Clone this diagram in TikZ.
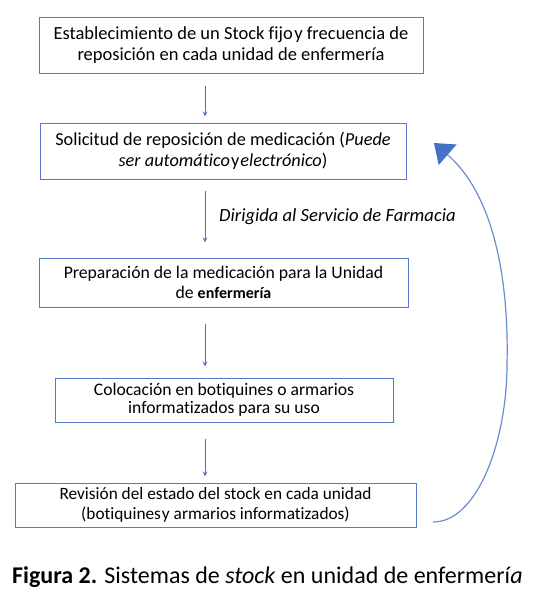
\documentclass[tikz,border=0pt]{standalone}
\usepackage{fontspec}
\setmainfont[Ligatures=NoCommon]{Carlito}
\usetikzlibrary{arrows.meta}
\definecolor{boxblue}{HTML}{5679C6}
\definecolor{arrblue}{HTML}{4A70C0}
\definecolor{curveblue}{HTML}{6A8CD0}
\definecolor{tipblue}{HTML}{4472C4}
\tikzset{
  x=1pt, y=-1pt,
  stepbox/.style={draw=boxblue, line width=1pt, align=center, inner sep=2pt,
    font=\fontsize{18.5}{21}\selectfont},
  flowarrow/.style={draw=arrblue, line width=0.9pt, -{Stealth[length=5pt,width=4.5pt]}},
  backarrow/.style={draw=curveblue, line width=1.2pt, -{Triangle[length=18pt,width=27pt,color=tipblue,fill=tipblue]}},
}
\begin{document}
\begin{tikzpicture}
\useasboundingbox (0,0) rectangle (545,597);
\node[stepbox, minimum width=384pt, minimum height=56pt] (b1) at (231,45)
  {Establecimiento de un Stock fijo\kern1.5pt y frecuencia de\\reposición en cada unidad de enfermería};
\node[stepbox, minimum width=366pt, minimum height=56pt, font=\fontsize{18.3}{21}\selectfont] (b2) at (223,151)
  {Solicitud de reposición de medicación (\textit{Puede}\\\textit{ser automático}\kern1pt y\kern1pt\textit{electrónico})};
\node[stepbox, minimum width=369pt, minimum height=49pt, font=\fontsize{17.7}{20}\selectfont] (b3) at (223.5,282.5)
  {Preparación de la medicación para la Unidad\\de {\fontsize{16}{20}\selectfont\bfseries enfermería}};
\node[stepbox, minimum width=338pt, minimum height=44pt, font=\fontsize{17.6}{18.5}\selectfont] (b4) at (224,400)
  {Colocación en botiquines o armarios\\informatizados para su uso};
\node[stepbox, minimum width=401pt, minimum height=44pt, font=\fontsize{17.3}{20}\selectfont] (b5) at (215.5,505)
  {Revisión del estado del stock en cada unidad\\(botiquines\kern1pt y armarios informatizados)};
\coordinate (ax) at (205,0);
\draw[flowarrow, shorten <=12pt, shorten >=6pt] (b1.south -| ax) -- (b2.north -| ax);
\draw[flowarrow, shorten <=11pt, shorten >=15pt] (b2.south -| ax) -- (b3.north -| ax);
\draw[flowarrow, shorten <=16pt, shorten >=11pt] (b3.south -| ax) -- (b4.north -| ax);
\draw[flowarrow, shorten <=16pt, shorten >=6pt] (b4.south -| ax) -- (b5.north -| ax);
\node[anchor=west, inner sep=0pt, font=\fontsize{18.6}{20}\selectfont\itshape] (lab) at (219,217)
  {Dirigida al Servicio de Farmacia};
\coordinate (cs) at (433,522);
\coordinate (cm) at (507,364);
\coordinate (ce) at (434,143);
\draw[backarrow] (cs) .. controls (478,522) and (507,440) .. (cm)
  .. controls (509,280) and (494,195) .. (ce);
\node[anchor=west, inner sep=0pt, font=\fontsize{24}{26}\selectfont] (cap) at (12,577)
  {\textbf{Figura 2.} Sistemas de \textit{stock} en unidad de enfermerí\textit{a}};
\end{tikzpicture}
\end{document}
